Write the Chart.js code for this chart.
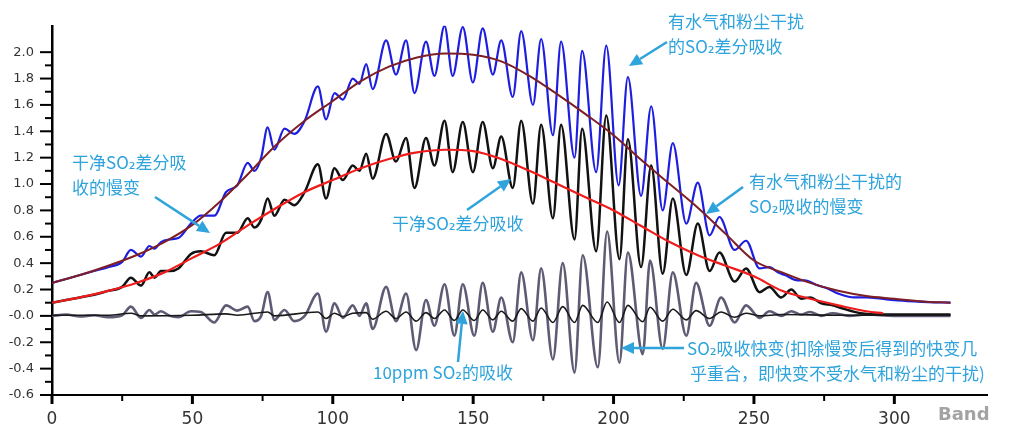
<!DOCTYPE html>
<html>
<head>
<meta charset="utf-8">
<script src="https://cdn.jsdelivr.net/npm/chart.js@4.4.0/dist/chart.umd.min.js"></script>
<style>
  html, body { margin: 0; padding: 0; background: #fff; }
  #wrap { width: 1011px; height: 430px; position: relative; }
</style>
</head>
<body>
<div id="wrap"><canvas id="so2Chart"></canvas></div>
<script>
/* slow variations (smooth curves) */
const brownBand = [0, 10, 20, 30, 40, 50, 60, 70, 80, 90, 100, 110, 120, 130, 140, 150, 160, 170, 180, 190, 200, 210, 220, 230, 240, 250, 260, 270, 280, 290, 300, 310, 320];
const brownVal  = [0.25, 0.31, 0.38, 0.46, 0.56, 0.69, 0.87, 1.08, 1.30, 1.48, 1.63, 1.78, 1.89, 1.96, 1.99, 1.98, 1.93, 1.82, 1.68, 1.53, 1.37, 1.18, 1.00, 0.82, 0.62, 0.42, 0.33, 0.25, 0.19, 0.15, 0.13, 0.11, 0.10];

const redBand = [0, 10, 20, 30, 40, 50, 60, 70, 80, 90, 100, 110, 120, 130, 140, 150, 160, 170, 180, 190, 200, 210, 220, 230, 240, 250, 260, 270, 280, 290, 296];
const redVal  = [0.10, 0.14, 0.19, 0.25, 0.33, 0.44, 0.55, 0.69, 0.82, 0.94, 1.03, 1.12, 1.19, 1.24, 1.26, 1.25, 1.19, 1.10, 1.00, 0.90, 0.80, 0.68, 0.56, 0.46, 0.38, 0.30, 0.19, 0.13, 0.08, 0.035, 0.02];

/* SO2 differential absorption with water vapour and dust (blue) */
const blueBand = [0, 5, 10, 15, 20, 25, 28.1, 31.7, 34.7, 36.5, 38.8, 42, 45, 49.5, 53, 57.8, 62, 66, 69.7, 72.1, 74.5, 76.8, 79.2, 82.8, 86.3, 90, 94.7, 97.6, 100.6, 103.6, 107.1, 109.5, 111.9, 114.2,
  119.0, 122.5, 126.1, 129.1, 133.2, 136.2, 139.8, 142.7, 146.3, 149.9, 153.4, 157.0, 160.0, 164.1, 167.1, 171.3, 174.2, 178.4, 181.3, 186.1, 188.8, 193.8, 197.4, 201.8, 205.1, 209.8, 213.4, 217.5, 221.1, 225.9, 230.0, 234.2, 237.7, 243.1, 247.2,
  252, 255.5, 258.5, 261, 265.6, 268, 272.8, 276, 279.9, 285.8, 290, 295.3, 300, 307.2, 312, 320];
const blueVal = [0.25, 0.28, 0.31, 0.34, 0.37, 0.41, 0.50, 0.45, 0.53, 0.51, 0.56, 0.58, 0.59, 0.70, 0.76, 0.76, 0.94, 0.99, 1.16, 1.10, 1.20, 1.43, 1.26, 1.42, 1.38, 1.48, 1.74, 1.49, 1.69, 1.64, 1.80, 1.76, 1.91, 1.72,
  2.09, 1.83, 2.09, 1.69, 2.08, 1.82, 2.20, 1.82, 2.19, 1.77, 2.18, 1.83, 2.09, 1.66, 2.16, 1.60, 2.10, 1.37, 2.08, 1.20, 2.01, 1.09, 2.05, 0.99, 1.81, 0.91, 1.59, 0.80, 1.31, 0.70, 1.01, 0.61, 0.75, 0.50, 0.57,
  0.36, 0.37, 0.33, 0.31, 0.27, 0.27, 0.23, 0.21, 0.17, 0.14, 0.14, 0.13, 0.12, 0.11, 0.105, 0.10];

/* clean SO2 differential absorption (black) */
const blackBand = [0, 5, 10, 15, 20, 25, 28.1, 31.7, 34.7, 36.5, 38.8, 42, 45, 49.5, 53, 57.8, 62, 66, 69.7, 72.1, 74.5, 76.8, 79.2, 82.8, 86.3, 90, 94.7, 97.6, 100.6, 103.6, 107.1, 109.5, 111.9, 114.2,
  119.0, 122.5, 126.1, 129.1, 133.2, 136.2, 139.8, 142.7, 146.3, 149.9, 153.4, 157.0, 160.0, 164.1, 167.1, 171.3, 174.2, 178.4, 181.3, 186.1, 188.8, 193.8, 197.4, 202.1, 205.1, 209.8, 213.4, 217.5, 221.1, 225.9, 230.0, 234.2, 237.7, 243.1, 247.2,
  252, 255.5, 259.7, 263.3, 266.8, 270, 274, 278, 281, 288, 295, 320];
const blackVal = [0.10, 0.12, 0.14, 0.16, 0.19, 0.22, 0.29, 0.23, 0.33, 0.29, 0.34, 0.34, 0.36, 0.47, 0.49, 0.46, 0.63, 0.63, 0.74, 0.67, 0.73, 0.89, 0.76, 0.88, 0.84, 0.94, 1.15, 0.89, 1.12, 1.03, 1.14, 1.10, 1.23, 1.04,
  1.38, 1.17, 1.35, 0.97, 1.35, 1.14, 1.48, 1.09, 1.47, 1.09, 1.47, 1.12, 1.36, 0.97, 1.48, 0.85, 1.45, 0.74, 1.45, 0.58, 1.42, 0.49, 1.52, 0.43, 1.34, 0.37, 1.14, 0.32, 0.89, 0.31, 0.70, 0.34, 0.48, 0.26, 0.36,
  0.18, 0.22, 0.14, 0.20, 0.13, 0.14, 0.095, 0.08, 0.06, 0.02, 0.01, 0.01];

/* fast variation (slow part removed) */
const fastBand = [0, 5, 10, 15, 20, 25, 28.1, 31.7, 34.7, 36.5, 38.8, 42, 45, 49.5, 53, 57.8, 62, 66, 69.7, 72.1, 74.5, 76.8, 79.2, 82.8, 86.3, 90, 94.7, 97.6, 100.6, 103.6, 107.1, 109.5, 111.9, 114.2,
  119.0, 122.5, 126.1, 129.7, 133.2, 136.2, 139.8, 143.3, 146.3, 150.4, 153.4, 157.0, 160.0, 164.1, 167.1, 171.3, 174.2, 178.4, 181.9, 186.1, 189.0, 194.4, 197.7, 202.1, 205.1, 210.4, 213.0, 217.5, 221.1, 225.9, 229.4, 234.2, 238.3, 243.1, 247.2,
  252, 255.5, 259.7, 263.3, 266.8, 270, 274, 278, 284, 290, 300, 320];
const fastVal = [0, 0.01, -0.005, 0.005, -0.01, 0.005, 0.07, -0.015, 0.045, 0.01, 0.035, 0.0, -0.01, 0.035, 0.03, -0.05, 0.08, 0.04, 0.07, -0.04, 0.0, 0.18, -0.03, 0.045, -0.04, 0.0, 0.17, -0.12, 0.095, -0.015, 0.08, 0.0, 0.095, -0.10,
  0.22, -0.04, 0.17, -0.26, 0.12, -0.075, 0.24, -0.15, 0.24, -0.15, 0.25, -0.12, 0.14, -0.20, 0.33, -0.185, 0.36, -0.33, 0.40, -0.43, 0.46, -0.39, 0.64, -0.355, 0.48, -0.29, 0.42, -0.25, 0.33, -0.15, 0.25, -0.075, 0.14, -0.05, 0.08,
  -0.015, 0.035, 0.0, 0.035, 0.01, 0.03, 0.0, 0.02, 0.0, 0.01, 0.0, 0.0];

/* 10ppm SO2 absorption */
const ppmBand = [0, 20, 28.1, 31.7, 50, 62, 66, 76.8, 79.2, 94.7, 97.6, 100.6, 103.6, 107.1, 111.9, 114.2,
  119.0, 122.5, 126.1, 129.7, 133.2, 136.2, 139.8, 143.3, 146.3, 150.4, 153.4, 157.0, 160.0, 164.1, 167.1, 171.3, 174.2, 178.4, 181.9, 186.1, 189.0, 194.4, 197.7, 202.1, 205.1, 210.4, 213.0, 217.5, 221.1, 225.9, 229.4, 234.2, 238.3, 243.1, 247.2,
  252, 260, 280, 320];
const ppmVal = [0.005, 0.005, 0.02, 0.0, 0.005, 0.015, 0.005, 0.03, 0.0, 0.03, -0.02, 0.02, -0.005, 0.02, 0.025, -0.025,
  0.035, -0.02, 0.03, -0.04, 0.025, -0.02, 0.045, -0.035, 0.045, -0.035, 0.045, -0.03, 0.035, -0.04, 0.055, -0.04, 0.06, -0.05, 0.07, -0.05, 0.08, -0.05, 0.105, -0.05, 0.08, -0.045, 0.065, -0.04, 0.05, -0.03, 0.04, -0.02, 0.03, -0.01, 0.02,
  0.0, 0.01, 0.005, 0.005];

const yTicksShown = [-0.6, -0.4, -0.2, 0, 0.2, 0.4, 0.6, 0.8, 1.0, 1.2, 1.4, 1.6, 1.8, 2.0];
const xTicksShown = [0, 50, 100, 150, 200, 250, 300];

function pts(bands, vals) {
    return bands.map((b, i) => ({x: b, y: vals[i]}));
}

const noteColor = '#2ea3dc';
const cjk = '"Noto Sans CJK SC", "DejaVu Sans", sans-serif';

function arrow(ctx, x1, y1, x2, y2) {
    const a = Math.atan2(y2 - y1, x2 - x1);
    const hl = 13, hw = 6;
    const bx = x2 - hl * Math.cos(a), by = y2 - hl * Math.sin(a);
    ctx.beginPath();
    ctx.moveTo(x1, y1);
    ctx.lineTo(bx, by);
    ctx.stroke();
    ctx.beginPath();
    ctx.moveTo(x2, y2);
    ctx.lineTo(bx + hw * Math.sin(a), by - hw * Math.cos(a));
    ctx.lineTo(bx - hw * Math.sin(a), by + hw * Math.cos(a));
    ctx.closePath();
    ctx.fill();
}

const axisExtras = {
    id: 'axisExtras',
    afterDraw(chart) {
        const ctx = chart.ctx;
        const xs = chart.scales.x, ys = chart.scales.y;
        const area = chart.chartArea;
        ctx.save();
        ctx.strokeStyle = '#000';
        // y ticks (major every 0.2, minor every 0.1)
        ys.ticks.forEach(t => {
            const k = Math.round(t.value * 10);
            if (k > 20) return;
            const py = ys.getPixelForValue(t.value);
            const major = k % 2 === 0;
            ctx.lineWidth = 2;
            ctx.beginPath();
            ctx.moveTo(area.left - (major ? 12 : 7), py);
            ctx.lineTo(area.left, py);
            ctx.stroke();
        });
        // x ticks (major every 50, minor every 25)
        xs.ticks.forEach(t => {
            if (t.value % 25 !== 0) return;
            const px = xs.getPixelForValue(t.value);
            const major = t.value % 50 === 0;
            ctx.lineWidth = major ? 3 : 2;
            ctx.beginPath();
            ctx.moveTo(px, area.bottom);
            ctx.lineTo(px, area.bottom + (major ? 9 : 6));
            ctx.stroke();
        });
        // axis title
        ctx.fillStyle = '#a3a3a3';
        ctx.font = 'bold 18px "DejaVu Sans", sans-serif';
        ctx.textAlign = 'left';
        ctx.textBaseline = 'middle';
        ctx.fillText('Band', 938, 415);

        // annotations
        ctx.fillStyle = noteColor;
        ctx.strokeStyle = noteColor;
        ctx.lineWidth = 2.5;
        ctx.font = '17px ' + cjk;
        const notes = [
            ['干净SO₂差分吸', 72, 163], ['收的慢变', 72, 188],
            ['干净SO₂差分吸收', 392, 224],
            ['有水气和粉尘干扰', 668, 22], ['的SO₂差分吸收', 668, 47],
            ['有水气和粉尘干扰的', 749, 182], ['SO₂吸收的慢变', 749, 207],
            ['10ppm SO₂的吸收', 373, 373],
            ['SO₂吸收快变(扣除慢变后得到的快变几', 687, 349], ['乎重合，即快变不受水气和粉尘的干扰)', 690, 374]
        ];
        notes.forEach(n => ctx.fillText(n[0], n[1], n[2]));
        arrow(ctx, 155, 197, 210, 233);
        arrow(ctx, 467, 210, 511, 179);
        arrow(ctx, 667, 42, 629, 66);
        arrow(ctx, 743, 187, 706, 214);
        arrow(ctx, 458, 362, 463, 311);
        arrow(ctx, 684, 348, 621, 348);
        ctx.restore();
    }
};

const lineBase = {pointRadius: 0, fill: false, cubicInterpolationMode: 'monotone'};

new Chart(document.getElementById('so2Chart').getContext('2d'), {
    type: 'line',
    data: {
        datasets: [
            Object.assign({data: pts(brownBand, brownVal), borderColor: '#7d1f24', borderWidth: 2}, lineBase),
            Object.assign({data: pts(redBand, redVal), borderColor: '#f01c1c', borderWidth: 2.2}, lineBase),
            Object.assign({data: pts(ppmBand, ppmVal), borderColor: '#1a1a1a', borderWidth: 1.6}, lineBase),
            Object.assign({data: pts(blueBand, blueVal), borderColor: '#1e1ee0', borderWidth: 2.2}, lineBase),
            Object.assign({data: pts(blackBand, blackVal), borderColor: '#121212', borderWidth: 2.5}, lineBase),
            Object.assign({data: pts(fastBand, fastVal), borderColor: '#5e5b74', borderWidth: 2.6}, lineBase)
        ]
    },
    options: {
        responsive: true,
        maintainAspectRatio: false,
        animation: false,
        layout: {padding: {top: 13, right: 24, left: 0, bottom: 0}},
        plugins: {
            legend: {display: false},
            tooltip: {enabled: false}
        },
        scales: {
            x: {
                type: 'linear',
                min: 0,
                max: 333,
                grid: {drawOnChartArea: false, drawTicks: false},
                border: {color: '#000', width: 2},
                ticks: {
                    stepSize: 25,
                    autoSkip: false,
                    maxRotation: 0,
                    padding: 14,
                    color: '#333',
                    font: {size: 17, family: '"DejaVu Sans", sans-serif'},
                    callback: v => xTicksShown.includes(v) ? String(v) : ''
                },
                afterFit: s => { s.height = 35; }
            },
            y: {
                min: -0.6,
                max: 2.2,
                grid: {drawOnChartArea: false, drawTicks: false},
                border: {color: '#000', width: 2.5},
                ticks: {
                    stepSize: 0.1,
                    autoSkip: false,
                    padding: 18,
                    color: '#333',
                    font: {size: 13, family: '"DejaVu Sans", sans-serif'},
                    callback: v => {
                        const k = Math.round(v * 10);
                        if (!yTicksShown.some(s => Math.round(s * 10) === k)) return '';
                        return k === 0 ? '-0.0' : (k / 10).toFixed(1);
                    }
                },
                afterFit: s => { s.width = 52; }
            }
        }
    },
    plugins: [axisExtras]
});
</script>
</body>
</html>
